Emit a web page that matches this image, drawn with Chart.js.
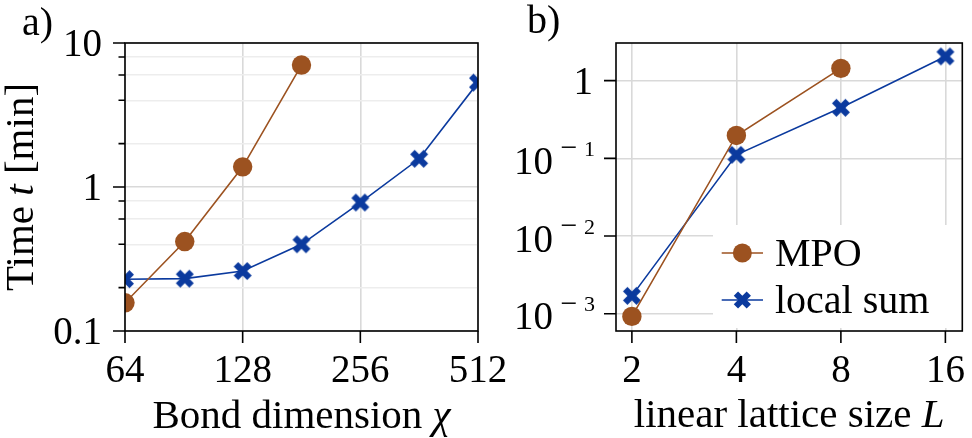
<!DOCTYPE html>
<html><head><meta charset="utf-8">
<script src="https://cdn.jsdelivr.net/npm/chart.js@4.4.1/dist/chart.umd.min.js"></script>
<style>
html,body{margin:0;padding:0;background:#fff;}
#wrap{position:relative;width:972px;height:438px;overflow:hidden;background:#fff;}
#cA{position:absolute;left:0;top:0;}
#cB{position:absolute;left:500px;top:0;}
</style></head><body>
<div id="wrap"><canvas id="cA" width="530" height="438"></canvas><canvas id="cB" width="472" height="438"></canvas></div>
<script>
// ---------- data ----------
const bondDims = [64, 91, 128, 181, 256, 362, 512];
const mpoTimeA = [0.157, 0.418, 1.38, 7.03];
const localTimeA = [0.229, 0.231, 0.261, 0.40, 0.78, 1.57, 5.31];
const latticeSizes = [2, 4, 8, 16];
const mpoTimeB = [9.25e-4, 0.197, 1.44];
const localTimeB = [1.7e-3, 0.111, 0.447, 2.05];
const seriesNames = ['MPO', 'local sum'];
const xTicksA = [64, 128, 256, 512];
const xTickLabelsA = ['64', '128', '256', '512'];
const yMajorA = [0.1, 1, 10];
const yMajorLabelsA = ['0.1', '1', '10'];
const yMinorA = [0.2, 0.4, 0.6, 0.8, 2, 4, 6, 8];
const xTicksB = [2, 4, 8, 16];
const xTickLabelsB = ['2', '4', '8', '16'];
const yMajorB = [1e-3, 1e-2, 1e-1, 1];
const yExpB = ['−3', '−2', '−1', null];

// ---------- style ----------
const FONT = "'Liberation Serif', 'Times New Roman', serif";
const BROWN = '#9c5220';
const BLUE = '#0b3a9e';
const GRID_MAJOR = '#d9d9d9';
const GRID_MINOR = '#ededed';

function xPath(g, half) {
  const t = half * Math.SQRT2, a = t * 0.75, w = t * 0.25;
  g.save(); g.rotate(Math.PI / 4);
  g.beginPath();
  g.moveTo(-w, -a); g.lineTo(w, -a); g.lineTo(w, -w); g.lineTo(a, -w); g.lineTo(a, w); g.lineTo(w, w);
  g.lineTo(w, a); g.lineTo(-w, a); g.lineTo(-w, w); g.lineTo(-a, w); g.lineTo(-a, -w); g.lineTo(-w, -w);
  g.closePath(); g.restore();
}
function makeX(color, half) {
  const s = Math.ceil(half * 2 + 4);
  const c = document.createElement('canvas'); c.width = s; c.height = s;
  const g = c.getContext('2d'); g.translate(s / 2, s / 2);
  xPath(g, half); g.fillStyle = color; g.fill();
  return c;
}
const xMarker = makeX(BLUE, 9);

function richWidth(ctx, parts, size) {
  let w = 0;
  for (const p of parts) { ctx.font = (p[1] ? 'italic ' : '') + size + 'px ' + FONT; w += ctx.measureText(p[0]).width; }
  return w;
}
function drawRich(ctx, parts, x, y, size) {
  let cx = x - richWidth(ctx, parts, size) / 2;
  ctx.textAlign = 'left'; ctx.textBaseline = 'alphabetic';
  for (const p of parts) {
    ctx.font = (p[1] ? 'italic ' : '') + size + 'px ' + FONT;
    ctx.fillText(p[0], cx, y); cx += ctx.measureText(p[0]).width;
  }
}

const decor = {
  id: 'decor',
  afterDatasetsDraw(chart, args, o) {
    const ctx = chart.ctx, ca = chart.chartArea, xs = chart.scales.x, ys = chart.scales.y;
    ctx.save();
    ctx.fillStyle = '#000';
    // legend
    if (o.legend) {
      const L = o.legend;
      ctx.fillStyle = '#fff';
      ctx.fillRect(L.x0, L.y0, L.x1 - L.x0, L.y1 - L.y0);
      const rows = [[seriesNames[0], BROWN, 'circle', L.r0], [seriesNames[1], BLUE, 'x', L.r1]];
      for (const r of rows) {
        ctx.strokeStyle = r[1]; ctx.lineWidth = 1.6;
        ctx.beginPath(); ctx.moveTo(L.lx0, r[3]); ctx.lineTo(L.lx1, r[3]); ctx.stroke();
        const mx = (L.lx0 + L.lx1) / 2;
        ctx.fillStyle = r[1];
        if (r[2] === 'circle') { ctx.beginPath(); ctx.arc(mx, r[3], 9.5, 0, Math.PI * 2); ctx.fill(); }
        else { ctx.save(); ctx.translate(mx, r[3]); xPath(ctx, 8.6); ctx.fill(); ctx.restore(); }
        ctx.fillStyle = '#000';
        ctx.font = '40px ' + FONT; ctx.textAlign = 'left'; ctx.textBaseline = 'alphabetic';
        ctx.fillText(r[0], L.tx, r[3] + 13);
      }
    }
    // frame
    ctx.strokeStyle = '#000'; ctx.lineWidth = 1.6;
    ctx.strokeRect(ca.left, ca.top, ca.right - ca.left, ca.bottom - ca.top);
    // tick marks
    ctx.beginPath();
    for (const v of o.xTicks) { const p = xs.getPixelForValue(v); ctx.moveTo(p, ca.bottom); ctx.lineTo(p, ca.bottom + 12); }
    for (const v of o.yMajor) { const p = ys.getPixelForValue(v); ctx.moveTo(ca.left - 12, p); ctx.lineTo(ca.left, p); }
    for (const v of (o.yMinor || [])) { const p = ys.getPixelForValue(v); ctx.moveTo(ca.left - 6.5, p); ctx.lineTo(ca.left, p); }
    ctx.stroke();
    // tick labels
    ctx.fillStyle = '#000';
    ctx.font = '39px ' + FONT; ctx.textAlign = 'center'; ctx.textBaseline = 'alphabetic';
    o.xTicks.forEach((v, i) => ctx.fillText(o.xLabels[i], xs.getPixelForValue(v), 382));
    if (o.yLabels) {
      ctx.textAlign = 'right';
      o.yMajor.forEach((v, i) => ctx.fillText(o.yLabels[i], ca.left - 23, ys.getPixelForValue(v) + 13));
    }
    if (o.yExp) {
      const R = ca.left - 21;
      o.yMajor.forEach((v, i) => {
        const T = ys.getPixelForValue(v);
        const e = o.yExp[i];
        ctx.textAlign = 'right'; ctx.font = '39px ' + FONT;
        if (e === null) { ctx.fillText('1', R - 2, T + 13); return; }
        ctx.fillText('10', R - 42, T + 15.5);
        ctx.font = '22px ' + FONT; ctx.fillText(e.slice(1), R, T - 2.5);
        ctx.font = '30px ' + FONT; ctx.textAlign = 'center'; ctx.fillText('−', R - 26, T - 1);
      });
    }
    // axis titles
    drawRich(ctx, o.xTitle, (ca.left + ca.right) / 2, o.xTitleY, 41);
    if (o.yTitle) {
      ctx.save(); ctx.translate(33, (ca.top + ca.bottom) / 2); ctx.rotate(-Math.PI / 2);
      drawRich(ctx, o.yTitle, 0, 0, 41); ctx.restore();
    }
    // panel tag
    ctx.font = '40px ' + FONT; ctx.textAlign = 'left'; ctx.textBaseline = 'alphabetic';
    ctx.fillText(o.tag[0], o.tag[1], o.tag[2]);
    ctx.restore();
  }
};

function gridOpts(minorSet) {
  return {
    color: c => (c.tick && minorSet.has(c.tick.value)) ? GRID_MINOR : GRID_MAJOR,
    lineWidth: 1.6, drawTicks: false
  };
}

function makeChart(id, datasets, cfg) {
  const minorSet = new Set(cfg.yMinor || []);
  return new Chart(document.getElementById(id), {
    type: 'line',
    data: { datasets },
    options: {
      responsive: false, animation: false, devicePixelRatio: 1,
      layout: { padding: { top: 43, right: cfg.padRight, left: 0, bottom: 0 } },
      plugins: { legend: { display: false }, tooltip: { enabled: false }, decor: cfg.decor },
      scales: {
        x: {
          type: 'logarithmic', min: cfg.xMin, max: cfg.xMax,
          afterBuildTicks: s => { s.ticks = cfg.decor.xTicks.map(v => ({ value: v })); },
          afterFit: s => { s.height = 107; },
          grid: gridOpts(new Set()), border: { display: false }, ticks: { display: false }
        },
        y: {
          type: 'logarithmic', min: cfg.yMin, max: cfg.yMax,
          afterBuildTicks: s => { s.ticks = cfg.decor.yMajor.concat(cfg.yMinor || []).map(v => ({ value: v })); },
          afterFit: s => { s.width = cfg.yWidth; },
          grid: gridOpts(minorSet), border: { display: false }, ticks: { display: false }
        }
      }
    },
    plugins: [decor]
  });
}

function series(xs, ys, name, color, style, radius) {
  return {
    label: name, data: ys.map((v, i) => ({ x: xs[i], y: v })),
    borderColor: color, backgroundColor: color, borderWidth: 1.6,
    pointStyle: style, pointRadius: radius, pointBorderWidth: 0, pointBackgroundColor: color,
    tension: 0, clip: 0, fill: false
  };
}

makeChart('cA', [
  series(bondDims, mpoTimeA, seriesNames[0], BROWN, 'circle', 9.7),
  series(bondDims, localTimeA, seriesNames[1], BLUE, xMarker, 9)
], {
  xMin: 64, xMax: 512, yMin: 0.1, yMax: 10, yWidth: 125, padRight: 52, yMinor: yMinorA,
  decor: {
    xTicks: xTicksA, xLabels: xTickLabelsA, yMajor: yMajorA, yMinor: yMinorA, yLabels: yMajorLabelsA,
    xTitle: [['Bond dimension ', false], ['χ', true]], xTitleY: 428,
    yTitle: [['Time ', false], ['t', true], [' [min]', false]],
    tag: ['a)', 22, 35]
  }
});

makeChart('cB', [
  series(latticeSizes, mpoTimeB, seriesNames[0], BROWN, 'circle', 9.7),
  series(latticeSizes, localTimeB, seriesNames[1], BLUE, xMarker, 9)
], {
  xMin: 1.8, xMax: 17.9, yMin: 6.3e-4, yMax: 3.05, yWidth: 116, padRight: 2,
  decor: {
    xTicks: xTicksB, xLabels: xTickLabelsB, yMajor: yMajorB, yExp: yExpB,
    xTitle: [['linear lattice size ', false], ['L', true]], xTitleY: 427,
    tag: ['b)', 27, 33],
    legend: { x0: 213, y0: 225, x1: 466, y1: 328, lx0: 221.7, lx1: 263, r0: 253, r1: 300, tx: 275 }
  }
});
</script>
</body></html>
